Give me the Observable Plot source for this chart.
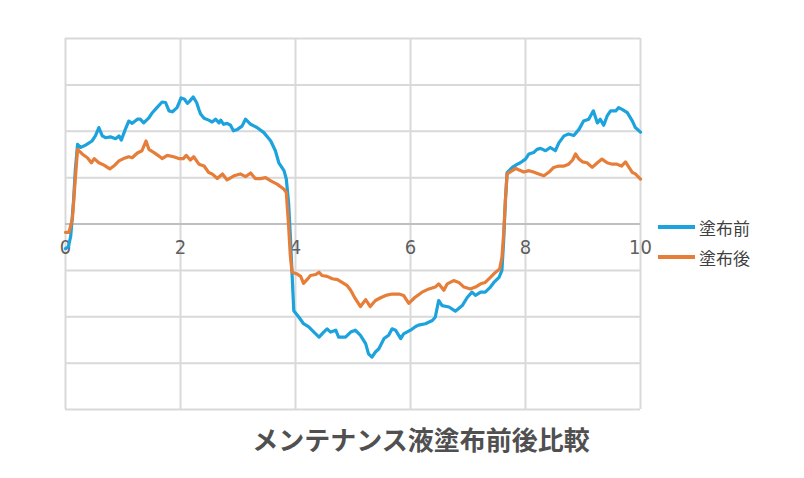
<!DOCTYPE html>
<html>
<head>
<meta charset="utf-8">
<script src="https://cdn.jsdelivr.net/npm/d3@7"></script>
<script src="https://cdn.jsdelivr.net/npm/@observablehq/plot@0.6"></script>
<style>
  html, body { margin: 0; padding: 0; background: #ffffff; }
  #wrap { position: relative; width: 804px; height: 478px; overflow: hidden; font-family: "Noto Sans CJK JP", "Noto Sans", sans-serif; }
  #legend { position: absolute; left: 658px; top: 212px; }
  .row { display: flex; align-items: center; height: 30px; font-size: 17px; color: #404040; }
  .sw { width: 37px; height: 4px; margin-right: 4px; }
  #title { position: absolute; left: 0; top: 421px; width: 804px; padding-left: 38px; box-sizing: border-box; text-align: center; font-size: 26px; font-weight: bold; color: #505050; line-height: 36px; }
</style>
</head>
<body>
<div id="wrap">
  <div id="chart"></div>
  <div id="legend"></div>
  <div id="title">メンテナンス液塗布前後比較</div>
</div>
<script>
const seriesNames = ["塗布前", "塗布後"];
const seriesColors = ["#1ca2dd", "#e67d38"];
const xTicks = [0, 2, 4, 6, 8, 10];
const yGrid = [-4, -3, -2, -1, 0, 1, 2, 3, 4];

// 塗布前 (before) [x, y]
const before = [
  [0,-0.53],[0.05,-0.49],[0.09,-0.27],[0.14,0.50],[0.17,1.15],[0.21,1.72],[0.26,1.65],[0.35,1.70],
  [0.46,1.79],[0.52,1.90],[0.58,2.08],[0.64,1.90],[0.70,1.86],[0.78,1.88],[0.87,1.84],[0.93,1.90],
  [0.97,1.81],[1.04,2.04],[1.10,2.22],[1.16,2.17],[1.25,2.26],[1.30,2.26],[1.36,2.18],[1.45,2.29],
  [1.51,2.40],[1.59,2.51],[1.68,2.63],[1.74,2.62],[1.80,2.44],[1.86,2.42],[1.94,2.51],[2.01,2.72],
  [2.07,2.69],[2.12,2.60],[2.16,2.65],[2.22,2.74],[2.28,2.62],[2.32,2.47],[2.35,2.37],[2.41,2.28],
  [2.49,2.24],[2.55,2.20],[2.61,2.26],[2.67,2.18],[2.70,2.24],[2.75,2.15],[2.81,2.17],[2.87,2.13],
  [2.92,2.01],[2.99,2.04],[3.07,2.11],[3.13,2.26],[3.22,2.15],[3.33,2.08],[3.45,1.97],[3.57,1.79],
  [3.65,1.58],[3.71,1.32],[3.80,1.15],[3.84,0.97],[3.88,0.46],[3.91,-0.25],[3.94,-1.07],[3.97,-1.87],
  [4.06,-2.01],[4.14,-2.15],[4.23,-2.22],[4.32,-2.33],[4.41,-2.44],[4.49,-2.33],[4.55,-2.26],[4.61,-2.33],
  [4.70,-2.29],[4.75,-2.44],[4.87,-2.44],[4.96,-2.33],[5.04,-2.29],[5.13,-2.40],[5.22,-2.58],[5.27,-2.80],
  [5.33,-2.87],[5.39,-2.76],[5.45,-2.69],[5.54,-2.47],[5.62,-2.40],[5.68,-2.26],[5.74,-2.29],[5.83,-2.47],
  [5.88,-2.37],[6.00,-2.29],[6.09,-2.21],[6.14,-2.18],[6.26,-2.15],[6.38,-2.08],[6.43,-2.01],[6.49,-1.65],
  [6.55,-1.76],[6.67,-1.79],[6.78,-1.88],[6.90,-1.76],[6.99,-1.58],[7.07,-1.47],[7.13,-1.54],[7.22,-1.47],
  [7.30,-1.47],[7.39,-1.36],[7.45,-1.26],[7.54,-1.15],[7.59,-1.00],[7.62,-0.36],[7.65,0.50],[7.68,1.11],
  [7.77,1.22],[7.86,1.29],[7.91,1.32],[8.00,1.40],[8.06,1.51],[8.14,1.54],[8.20,1.61],[8.26,1.63],
  [8.35,1.58],[8.43,1.65],[8.52,1.58],[8.58,1.75],[8.67,1.90],[8.75,1.94],[8.84,1.91],[8.93,2.04],
  [9.01,2.22],[9.10,2.26],[9.18,2.44],[9.25,2.18],[9.30,2.26],[9.36,2.13],[9.42,2.33],[9.48,2.44],
  [9.57,2.44],[9.62,2.51],[9.68,2.47],[9.77,2.40],[9.86,2.22],[9.91,2.08],[10.0,1.98]
];

// 塗布後 (after) [x, y]
const after = [
  [0,-0.18],[0.06,-0.18],[0.12,0.11],[0.17,0.97],[0.21,1.61],[0.29,1.51],[0.38,1.43],[0.45,1.32],
  [0.50,1.41],[0.58,1.32],[0.67,1.27],[0.77,1.19],[0.84,1.25],[0.93,1.36],[1.01,1.41],[1.10,1.45],
  [1.16,1.43],[1.25,1.53],[1.33,1.58],[1.40,1.79],[1.45,1.61],[1.54,1.54],[1.62,1.47],[1.68,1.41],
  [1.77,1.48],[1.88,1.45],[1.97,1.41],[2.05,1.41],[2.10,1.48],[2.17,1.38],[2.23,1.45],[2.32,1.29],
  [2.41,1.25],[2.49,1.11],[2.55,1.08],[2.64,0.98],[2.73,1.08],[2.81,0.95],[2.93,1.04],[3.04,1.08],
  [3.13,1.02],[3.22,1.10],[3.30,0.98],[3.39,0.98],[3.48,1.00],[3.57,0.93],[3.68,0.86],[3.80,0.75],
  [3.84,0.68],[3.88,-0.04],[3.91,-0.68],[3.94,-1.04],[4.03,-1.08],[4.09,-1.13],[4.14,-1.28],[4.20,-1.20],
  [4.26,-1.11],[4.35,-1.09],[4.41,-1.04],[4.46,-1.11],[4.55,-1.13],[4.64,-1.18],[4.73,-1.20],[4.81,-1.26],
  [4.90,-1.33],[4.96,-1.43],[5.04,-1.61],[5.13,-1.78],[5.22,-1.63],[5.30,-1.78],[5.39,-1.65],[5.48,-1.59],
  [5.57,-1.54],[5.68,-1.51],[5.80,-1.51],[5.88,-1.54],[5.97,-1.71],[6.07,-1.59],[6.20,-1.47],[6.32,-1.40],
  [6.43,-1.36],[6.49,-1.29],[6.58,-1.43],[6.64,-1.29],[6.75,-1.22],[6.84,-1.26],[6.93,-1.36],[7.04,-1.40],
  [7.13,-1.36],[7.22,-1.29],[7.30,-1.26],[7.39,-1.15],[7.48,-1.04],[7.55,-0.97],[7.59,-0.72],[7.62,-0.22],
  [7.65,0.50],[7.68,1.08],[7.77,1.15],[7.83,1.20],[7.88,1.17],[7.97,1.12],[8.06,1.15],[8.14,1.12],
  [8.23,1.08],[8.32,1.04],[8.41,1.12],[8.49,1.22],[8.58,1.25],[8.67,1.25],[8.75,1.29],[8.82,1.38],
  [8.87,1.51],[8.93,1.40],[8.99,1.34],[9.07,1.32],[9.16,1.22],[9.25,1.32],[9.33,1.40],[9.42,1.32],
  [9.51,1.29],[9.59,1.29],[9.67,1.25],[9.74,1.34],[9.80,1.22],[9.86,1.11],[9.91,1.08],[10.0,0.97]
];

const chart = Plot.plot({
  width: 804,
  height: 420,
  marginLeft: 65,
  marginRight: 164,
  marginTop: 38,
  marginBottom: 11,
  style: { background: "transparent", fontFamily: "'Noto Sans', sans-serif" },
  x: { domain: [0, 10], axis: null },
  y: { domain: [-4, 4], axis: null },
  marks: [
    Plot.ruleX(xTicks, { stroke: "#d9d9d9", strokeWidth: 2 }),
    Plot.ruleY(yGrid, { stroke: "#d9d9d9", strokeWidth: 2 }),
    Plot.ruleY([0], { stroke: "#bfbfbf", strokeWidth: 2 }),
    Plot.text(xTicks, { x: d => d, y: () => 0, dy: 24, text: d => String(d), fontSize: 20, fontFamily: "'Liberation Sans Narrow', 'DejaVu Sans Condensed', sans-serif", fill: "#5f5f5f" }),
    Plot.line(before, { x: d => d[0], y: d => d[1], stroke: seriesColors[0], strokeWidth: 3.2, strokeLinejoin: "round" }),
    Plot.line(after, { x: d => d[0], y: d => d[1], stroke: seriesColors[1], strokeWidth: 3.2, strokeLinejoin: "round" })
  ]
});
document.getElementById("chart").appendChild(chart);

const legend = document.getElementById("legend");
seriesNames.forEach((name, i) => {
  const row = document.createElement("div");
  row.className = "row";
  const sw = document.createElement("div");
  sw.className = "sw";
  sw.style.background = seriesColors[i];
  const label = document.createElement("span");
  label.textContent = name;
  row.appendChild(sw);
  row.appendChild(label);
  legend.appendChild(row);
});
</script>
</body>
</html>
